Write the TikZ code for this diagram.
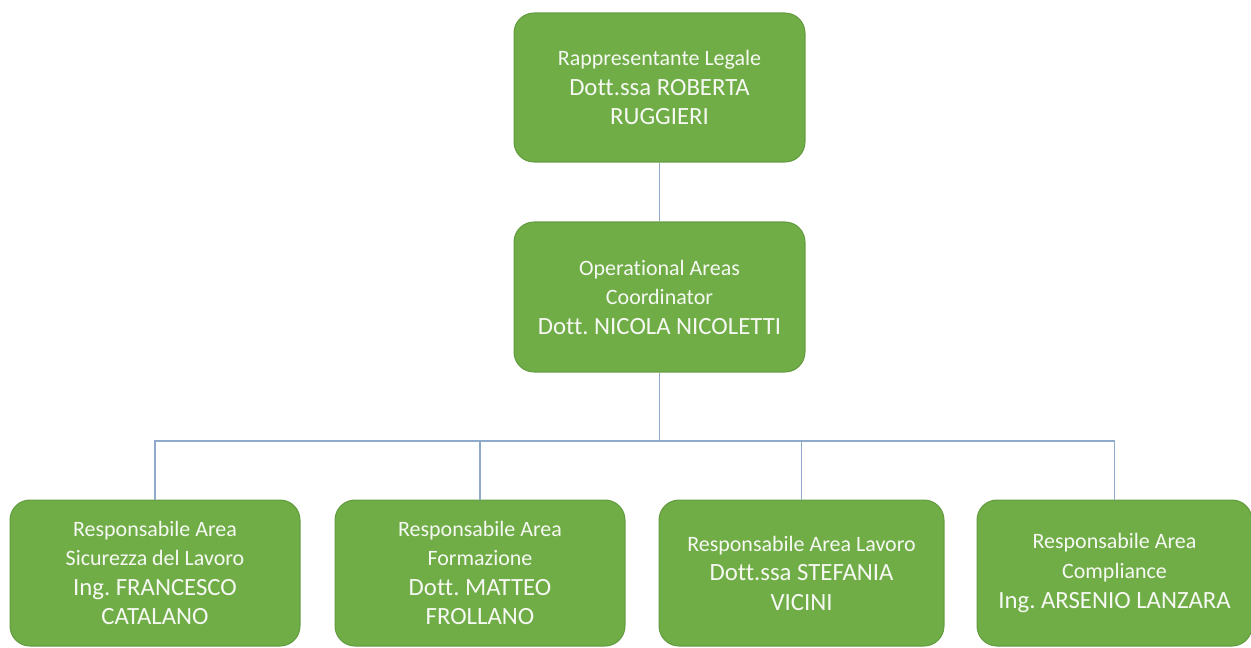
\documentclass[tikz,border=0pt]{standalone}
\usepackage{fontspec}
\setmainfont{Carlito}[Ligatures=CommonOff]
\frenchspacing
\definecolor{boxgreen}{HTML}{70AD47}
\definecolor{boxedge}{HTML}{639C3E}
\definecolor{linkblue}{HTML}{90ABC9}
\definecolor{boxtext}{HTML}{F6F9F3}
\newcommand{\rolefont}{\fontsize{12.5}{16.8}\selectfont}
\newcommand{\namefont}{\fontsize{14.1}{16.8}\selectfont}

\begin{document}
\begin{tikzpicture}
[x=0.02cm,y=-0.02cm,
  boxdecorate/.style={shape=rectangle,rounded corners=0.4cm,fill=boxgreen,
    draw=boxedge,line width=0.6pt,text=boxtext,align=center,inner sep=0pt,
    font=\rolefont},%
  linedecorate/.style={-,draw=linkblue,line width=0.6pt}]
\useasboundingbox (0,0) rectangle (1251,647);
%% boxes
\foreach \nodename/\x/\y/\w/\h/\txt in {
  legale/659.5/87.5/5.82/2.98/{Rappresentante Legale\\ {\namefont Dott.ssa ROBERTA}\\ {\namefont RUGGIERI}},
  coord/659.5/297/5.82/3.0/{Operational Areas\\ Coordinator\\ {\namefont Dott. NICOLA NICOLETTI}},
  sicurezza/155/573/5.8/2.92/{Responsabile Area\\ Sicurezza del Lavoro\\ {\namefont Ing. FRANCESCO}\\ {\namefont CATALANO}},
  formazione/480/573/5.8/2.92/{Responsabile Area\\ Formazione\\ {\namefont Dott. MATTEO}\\ {\namefont FROLLANO}},
  lavoro/801.5/573/5.7/2.92/{Responsabile Area Lavoro\\ {\namefont Dott.ssa STEFANIA}\\ {\namefont VICINI}},
  compliance/1114.5/573/5.5/2.92/{Responsabile Area\\ Compliance\\ {\namefont Ing. ARSENIO LANZARA}}} {
  \node (\nodename) at (\x,\y) [boxdecorate,minimum width=\w cm,minimum height=\h cm] {\txt};
}
%% connectors
\coordinate (bus) at (659.5,441);
\path (legale) edge[linedecorate] (coord)
  (coord) edge[linedecorate] (bus)
\foreach \endnode in {sicurezza, formazione, lavoro, compliance} {
  (bus) edge[linedecorate,to path={-| (\tikztotarget)}] (\endnode.north)
};
\end{tikzpicture}
\end{document}
